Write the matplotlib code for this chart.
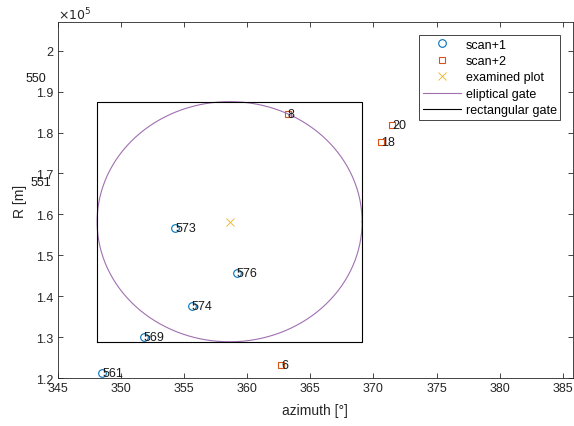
"""Gating plot: scan+1 / scan+2 plots around the examined plot"""

import matplotlib.pyplot as plt
import numpy as np

plt.rcParams['font.family'] = ['Liberation Sans', 'DejaVu Sans']

# scan+1 plots (two of them lie left of the axes, only their labels show)
scan1_id = ['550', '551', '561', '569', '574', '573', '576']
scan1_az = [342.4, 342.8, 348.5, 351.8, 355.6, 354.3, 359.15]
scan1_r = [1.934e5, 1.678e5, 1.212e5, 1.300e5, 1.377e5, 1.566e5, 1.456e5]

# scan+2 plots
scan2_id = ['8', '20', '18', '6']
scan2_az = [363.2, 371.5, 370.6, 362.7]
scan2_r = [1.845e5, 1.819e5, 1.776e5, 1.233e5]

# examined plot and gate half widths
plot_az = 358.6
plot_r = 1.582e5
gate_az = 10.5
gate_r = 0.2935e5

ytick_vals = [1.2e5, 1.3e5, 1.4e5, 1.5e5, 1.6e5, 1.7e5, 1.8e5, 1.9e5, 2.0e5]
ytick_labels = ['1.2', '1.3', '1.4', '1.5', '1.6', '1.7', '1.8', '1.9', '2']
xtick_vals = [345, 350, 355, 360, 365, 370, 375, 380, 385]

ax_col = '#262626'

fig = plt.figure(figsize=(5.74, 4.27), dpi=100)
ax = fig.add_axes([0.101, 0.1124, 0.897, 0.8336])

ax.plot(scan1_az, scan1_r, 'o', ls='none', mfc='none', mec='#0072BD',
        ms=5.5, mew=0.8, label='scan+1')
ax.plot(scan2_az, scan2_r, 's', ls='none', mfc='none', mec='#D95319',
        ms=5, mew=0.8, label='scan+2')
ax.plot([plot_az], [plot_r], 'x', ls='none', color='#EDB120',
        ms=5.5, mew=0.6, label='examined plot')

t = np.linspace(0, 2 * np.pi, 400)
ax.plot(plot_az + gate_az * np.cos(t), plot_r + gate_r * np.sin(t),
        color='#A070B0', lw=0.8, label='eliptical gate')
rx = [plot_az - gate_az, plot_az + gate_az, plot_az + gate_az,
      plot_az - gate_az, plot_az - gate_az]
ry = [plot_r - gate_r, plot_r - gate_r, plot_r + gate_r,
      plot_r + gate_r, plot_r - gate_r]
ax.plot(rx, ry, color='k', lw=0.8, label='rectangular gate')

for lab, x, y in zip(scan1_id, scan1_az, scan1_r):
    ax.text(x, y, lab, ha='left', va='center', fontsize=9, color='#1a1a1a',
            clip_on=False)
for lab, x, y in zip(scan2_id, scan2_az, scan2_r):
    ax.text(x, y, lab, ha='left', va='center', fontsize=9, color='#1a1a1a',
            clip_on=False)

ax.set_xlim(345, 385.8)
ax.set_ylim(1.2e5, 2.07e5)
ax.set_xticks(xtick_vals)
ax.set_yticks(ytick_vals)
ax.set_yticklabels(ytick_labels)
ax.tick_params(direction='in', top=True, right=True, labelsize=9,
               colors=ax_col, length=3.5, width=0.6, pad=3)
for s in ax.spines.values():
    s.set_color(ax_col)
    s.set_linewidth(0.6)

ax.text(0.0, 0.998, r'$\times 10^{5}$', transform=ax.transAxes,
        fontsize=9, color=ax_col, ha='left', va='bottom')

ax.set_xlabel('azimuth [°]', fontsize=10, color=ax_col, labelpad=6)
ax.set_ylabel('R [m]', fontsize=10, color=ax_col, labelpad=7)

leg = ax.legend(loc='upper right', bbox_to_anchor=(560.3 / 574, 1 - 36 / 427),
                bbox_transform=fig.transFigure, fontsize=9, fancybox=False,
                framealpha=1, edgecolor=ax_col, borderaxespad=0,
                handlelength=3.0, handletextpad=0.4, labelspacing=0.35,
                borderpad=0.3)
leg.get_frame().set_linewidth(0.6)

plt.savefig('out.png', dpi=100)
